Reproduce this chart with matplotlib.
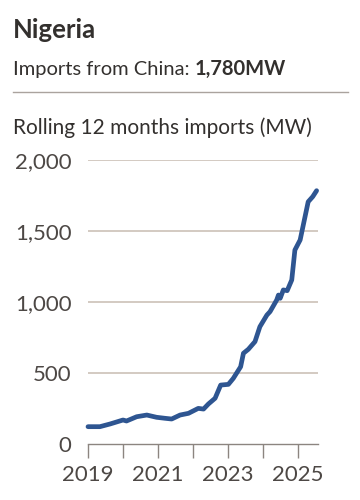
import matplotlib.pyplot as plt
from matplotlib.lines import Line2D

plt.rcParams['font.family'] = ['Lato', 'DejaVu Sans']

# rolling 12 months imports (MW)
years = [2019.0, 2019.34, 2019.63, 2020.0, 2020.1, 2020.39, 2020.68, 2020.96,
         2021.2, 2021.39, 2021.63, 2021.87, 2022.15, 2022.3, 2022.44, 2022.63,
         2022.79, 2023.01, 2023.15, 2023.36, 2023.44, 2023.58, 2023.77, 2023.91,
         2024.11, 2024.2, 2024.39, 2024.44, 2024.49, 2024.58, 2024.69, 2024.82,
         2024.91, 2025.06, 2025.2, 2025.29, 2025.42, 2025.53]
imports = [122, 122, 141, 169, 162, 192, 204, 188,
           181, 176, 204, 216, 251, 246, 282, 322,
           415, 420, 462, 544, 639, 667, 721, 826,
           908, 932, 1014, 1049, 1026, 1085, 1080, 1155,
           1366, 1437, 1601, 1706, 1742, 1784]
xticks = [2019, 2020, 2021, 2022, 2023, 2024, 2025]
xlabels = ['2019', '', '2021', '', '2023', '', '2025']
yticks = [0, 500, 1000, 1500, 2000]

txt = '#33302e'
grid = '#ccc1b7'

fig = plt.figure(figsize=(3.6, 5), dpi=100)
fig.patch.set_facecolor('white')

fig.text(13 / 360, 1 - 30 / 500, 'Nigeria', fontsize=18.5, fontweight='bold',
         color=txt, va='center')
t = fig.text(13 / 360, 1 - 69 / 500, 'Imports from China: ', fontsize=14.5,
             color=txt, va='center')
fig.canvas.draw()
bb = t.get_window_extent()
fig.text(bb.x1 / 360, 1 - 69 / 500, '1,780MW', fontsize=14.5, fontweight='bold',
         color=txt, va='center')
fig.add_artist(Line2D([13 / 360, 348 / 360], [1 - 92 / 500, 1 - 92 / 500],
                      color='#aaa39e', lw=1, transform=fig.transFigure))
fig.text(13 / 360, 1 - 128 / 500, 'Rolling 12 months imports (MW)', fontsize=15,
         color=txt, va='center')

ax = fig.add_axes([88 / 360, 1 - 444 / 500, 230 / 360, 284 / 500])
ax.set_facecolor('white')
ax.plot(years, imports, color='#2e5591', lw=3.4, solid_capstyle='round',
        clip_on=False, zorder=3)
ax.set_xlim(2019, 2025.57)
ax.set_ylim(0, 2000)
ax.set_yticks(yticks)
ax.set_yticklabels([f'{v:,}' for v in yticks])
ax.set_xticks(xticks)
ax.set_xticklabels(xlabels)
for v in yticks[1:]:
    ax.axhline(v, color=grid, lw=1.2, zorder=1)
for s in ['top', 'right', 'left']:
    ax.spines[s].set_visible(False)
ax.spines['bottom'].set_color('#8c8580')
ax.spines['bottom'].set_linewidth(1)
ax.tick_params(axis='y', length=0, pad=12, labelsize=16, labelcolor='#4d4845')
ax.tick_params(axis='x', length=10, width=1, color='#8c8580', pad=5,
               labelsize=16, labelcolor='#4d4845')

fig.savefig('out.png', dpi=100, facecolor='white')
